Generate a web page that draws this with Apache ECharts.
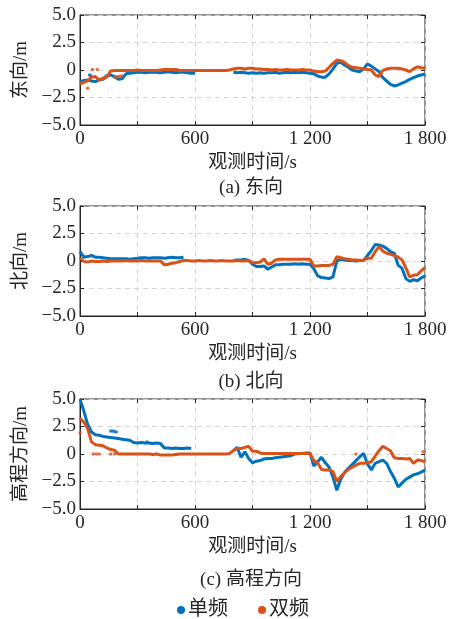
<!DOCTYPE html>
<html>
<head>
<meta charset="utf-8">
<script src="https://cdn.jsdelivr.net/npm/echarts@6/dist/echarts.min.js"></script>
<style>
  html, body { margin: 0; padding: 0; background: #fff; }
  #chart { width: 451px; height: 619px; }
</style>
</head>
<body>
<div id="chart"></div>
<script>
var step = 20;

// tick labels
var xTickLabels = { 0: '0', 600: '600', 1200: '1 200', 1800: '1 800' };
var yTickLabels = { '5': '5.0', '2.5': '2.5', '0': '0', '-2.5': '−2.5', '-5': '−5.0' };

var panelNames = ['东向/m', '北向/m', '高程方向/m'];
var captions = ['(a) 东向', '(b) 北向', '(c) 高程方向'];
var seriesNames = ['单频', '双频'];

// 东向
var eastSingle = [
  -1.1, -0.95, -0.9, -1.0, -1.05, -0.9, -0.85, -0.5, -0.45, -0.6,
  -0.85, -0.8, -0.35, -0.3, -0.25, -0.2, -0.2, -0.25, -0.2, -0.2,
  -0.2, -0.25, -0.2, -0.15, -0.2, -0.25, -0.2, -0.2, -0.25, -0.3,
  -0.3, null, null, null, null, null, null, null, null, null,
  -0.2, -0.25, -0.2, -0.25, -0.3, -0.25, -0.3, -0.25, -0.3, -0.25,
  -0.25, -0.2, -0.3, -0.25, -0.2, -0.25, -0.2, -0.25, -0.2, -0.25,
  -0.3, -0.35, -0.55, -0.65, -0.65, -0.35, 0.1, 0.6, 0.7, 0.45,
  0.25, 0.0, -0.1, -0.15, 0.1, 0.55, 0.35, 0.1, -0.15, -0.7,
  -1.0, -1.3, -1.45, -1.35, -1.2, -1.05, -0.85, -0.7, -0.55, -0.45,
  -0.35
];
var eastDual = [
  -1.3, -1.1, -1.0, -0.65, -0.6, -0.9, -0.75, -0.65, -0.1, -0.05,
  -0.05, -0.05, -0.05, -0.05, -0.05, 0.0, -0.05, -0.05, -0.05, -0.05,
  -0.05, 0.0, 0.05, 0.05, 0.05, 0.05, -0.05, -0.05, -0.05, -0.05,
  -0.05, -0.05, -0.05, -0.05, -0.05, -0.05, -0.05, -0.05, -0.05, 0.0,
  0.1, 0.15, 0.15, 0.1, 0.15, 0.15, 0.1, 0.1, 0.05, 0.05,
  0.0, 0.05, 0.0, 0.0, 0.05, 0.0, 0.0, 0.0, 0.05, 0.0,
  0.0, -0.1, -0.15, -0.15, -0.1, 0.25, 0.6, 0.9, 0.85, 0.7,
  0.4, 0.25, 0.2, 0.15, 0.1, 0.05, 0.0, -0.45, -0.6, -0.05,
  0.1, 0.15, 0.15, 0.15, 0.1, 0.0, -0.15, 0.1, 0.3, 0.2,
  0.15
];
var eastSingleDots = [[50, -0.45], [55, -0.5]];
var eastDualDots = [[40, -1.65], [65, 0.05], [90, 0.05], [180, -0.65], [190, -0.62], [200, -0.6], [210, -0.58], [220, -0.55]];

// 北向
var northSingle = [
  0.85, 0.35, 0.4, 0.5, 0.35, 0.35, 0.3, 0.25, 0.2, 0.2,
  0.2, 0.2, 0.2, 0.15, 0.2, 0.25, 0.3, 0.3, 0.25, 0.3,
  0.3, 0.3, 0.25, 0.3, 0.35, 0.3, 0.3, 0.35, null, null,
  null, null, null, null, null, null, null, null, null, null,
  0.05, 0.1, 0.1, 0.15, 0.05, -0.3, -0.5, -0.5, -0.45, -0.75,
  -0.55, -0.35, -0.35, -0.3, -0.3, -0.3, -0.25, -0.3, -0.25, -0.3,
  -0.3, -0.7, -1.35, -1.5, -1.55, -1.6, -1.45, 0.0, 0.15, 0.1,
  0.05, 0.05, 0.0, 0.05, 0.05, 0.5, 0.95, 1.5, 1.45, 1.35,
  1.15, 0.85, 0.7, -0.4, -0.65, -1.6, -1.85, -1.7, -1.8, -1.55,
  -1.35
];
var northDual = [
  0.3, -0.05, -0.1, 0.0, -0.05, -0.05, 0.0, -0.05, 0.0, 0.0,
  0.0, 0.0, 0.05, 0.0, 0.0, 0.0, 0.05, 0.0, 0.0, 0.0,
  0.0, 0.0, -0.35, -0.3, -0.2, -0.15, -0.05, 0.05, 0.05, 0.0,
  0.0, 0.05, 0.0, 0.0, 0.05, 0.0, 0.0, 0.05, 0.0, 0.0,
  0.0, 0.05, 0.0, 0.0, 0.05, -0.15, -0.15, -0.1, 0.2, -0.3,
  -0.2, 0.1, 0.15, 0.15, 0.15, 0.15, 0.15, 0.15, 0.15, 0.15,
  0.15, -0.45, -0.45, -0.4, -0.4, -0.4, -0.3, 0.4, 0.3, 0.2,
  0.15, 0.1, 0.1, 0.05, 0.1, 0.25, 0.25, 0.85, 1.3, 0.9,
  0.7, 0.6, 0.5, 0.35, 0.1, -0.6, -1.45, -1.3, -1.25, -0.9,
  -0.6
];

// 高程方向
var heightSingle = [
  5.0, 3.9, 2.7, 2.0, 1.75, 1.7, 1.6, 1.55, 1.5, 1.45,
  1.4, 1.35, 1.3, 1.25, 1.05, 1.0, 1.05, 1.0, 1.0, 0.95,
  1.0, 0.95, 0.55, 0.55, 0.5, 0.55, 0.5, 0.5, 0.55, 0.5,
  null, null, null, null, null, null, null, null, null, null,
  0.3, 0.6, -0.3, 0.2, -0.4, -0.8, -0.65, -0.6, -0.45, -0.4,
  -0.4, -0.35, -0.3, -0.25, -0.2, -0.15, 0.0, 0.05, 0.05, 0.1,
  0.1, -1.1, -0.7, -0.3, -0.8, -1.2, -2.1, -3.3, -2.3, -1.7,
  -1.3, -0.95, -0.6, -0.25, 0.05, -0.9, -1.45, -0.85, -0.7, -0.55,
  -0.85, -1.6, -2.2, -3.0, -2.65, -2.3, -2.1, -1.9, -1.8, -1.65,
  -1.45
];
var heightDual = [
  3.25, 2.9, 2.3, 1.1, 0.85, 0.8, 0.75, 0.55, 0.4, 0.35,
  0.0, 0.0, 0.0, 0.0, 0.0, 0.0, 0.0, 0.0, 0.0, -0.05,
  0.0, -0.1, -0.1, -0.1, -0.1, -0.05, 0.0, 0.0, 0.0, 0.0,
  0.0, 0.0, 0.0, 0.0, 0.0, 0.0, 0.0, 0.0, 0.0, 0.05,
  0.3, 0.5, 0.5, 0.6, 0.7, 0.25, 0.25, 0.1, 0.05, 0.05,
  0.05, 0.05, 0.05, 0.05, 0.05, 0.05, 0.05, 0.05, 0.05, 0.05,
  0.05, -0.6, -0.8, -1.4, -1.45, -1.45, -1.6, -2.5, -2.05, -1.7,
  -1.4, -1.2, -1.0, -0.85, -0.85, -0.8, -0.7, -0.2, 0.3, 0.7,
  0.5, 0.3, -0.35, -0.4, -0.4, -0.45, -0.4, -0.85, -0.55, -0.6,
  -0.7
];
var heightSingleDots = [[160, 2.1], [170, 2.08], [180, 2.05], [190, 2.0], [350, 1.1]];
var heightDualDots = [[0, 1.9], [70, 0.0], [85, 0.0], [100, 0.0], [160, 0.0], [180, 0.0], [1440, 0.0], [1790, 0.2]];

var panels = [
  { single: eastSingle, dual: eastDual, singleDots: eastSingleDots, dualDots: eastDualDots },
  { single: northSingle, dual: northDual, singleDots: [], dualDots: [] },
  { single: heightSingle, dual: heightDual, singleDots: heightSingleDots, dualDots: heightDualDots }
];

var colors = ['#0072BD', '#D95319'];
var font = '"Liberation Serif", "Noto Sans CJK SC", serif';
var axisColor = '#262626';
var gridTops = [15, 206, 399];

function toPairs(values) {
  return values.map(function (v, i) { return [i * step, v]; });
}

var grids = [], xAxes = [], yAxes = [], series = [], graphics = [];

gridTops.forEach(function (top, i) {
  grids.push({
    left: 80, right: 26, top: top, height: 110,
    show: true, borderColor: axisColor, borderWidth: 1
  });
  xAxes.push({
    type: 'value', gridIndex: i, min: 0, max: 1800, interval: 300,
    name: '观测时间/s', nameLocation: 'middle', nameGap: 29,
    nameTextStyle: { fontFamily: font, fontSize: 19, color: axisColor },
    axisLine: { show: true, onZero: false, lineStyle: { color: axisColor } },
    axisTick: { inside: true, length: 4, lineStyle: { color: axisColor } },
    axisLabel: {
      fontFamily: font, fontSize: 19, color: axisColor, margin: 5,
      formatter: function (v) { return xTickLabels[v] || ''; }
    },
    splitLine: { show: true, lineStyle: { color: '#d4d4d4', type: [5, 4] } }
  });
  xAxes.push({
    type: 'value', gridIndex: i, position: 'top', min: 0, max: 1800, interval: 300,
    axisLine: { show: false, onZero: false },
    axisTick: { inside: true, length: 4, lineStyle: { color: axisColor } },
    axisLabel: { show: false }, splitLine: { show: false }
  });
  yAxes.push({
    type: 'value', gridIndex: i, min: -5, max: 5, interval: 2.5,
    name: panelNames[i], nameLocation: 'middle', nameGap: 47,
    nameTextStyle: { fontFamily: font, fontSize: 19, color: axisColor },
    axisLine: { show: true, onZero: false, lineStyle: { color: axisColor } },
    axisTick: { inside: true, length: 4, lineStyle: { color: axisColor } },
    axisLabel: {
      fontFamily: font, fontSize: 19, color: axisColor, margin: 4,
      formatter: function (v) { return yTickLabels[String(v)]; }
    },
    splitLine: { show: true, lineStyle: { color: '#d4d4d4', type: [5, 4] } }
  });
  yAxes.push({
    type: 'value', gridIndex: i, position: 'right', min: -5, max: 5, interval: 2.5,
    axisLine: { show: false, onZero: false },
    axisTick: { inside: true, length: 4, lineStyle: { color: axisColor } },
    axisLabel: { show: false }, splitLine: { show: false }
  });

  var p = panels[i];
  [[p.single, p.singleDots], [p.dual, p.dualDots]].forEach(function (pair, k) {
    series.push({
      name: seriesNames[k], type: 'line', xAxisIndex: i * 2, yAxisIndex: i * 2,
      data: toPairs(pair[0]), showSymbol: false, connectNulls: false,
      lineStyle: { color: colors[k], width: 3 }, itemStyle: { color: colors[k] },
      z: 2 + k
    });
    if (pair[1].length) {
      series.push({
        name: seriesNames[k], type: 'scatter', xAxisIndex: i * 2, yAxisIndex: i * 2,
        data: pair[1], symbolSize: 3.5, itemStyle: { color: colors[k] }, z: 2 + k
      });
    }
  });
});

var captionY = [188, 382, 580];
captions.forEach(function (c, i) {
  graphics.push({
    type: 'text', x: 251, y: captionY[i],
    style: { text: c, font: '19px ' + font, fill: axisColor, textAlign: 'center', textVerticalAlign: 'middle' }
  });
});

var chart = echarts.init(document.getElementById('chart'), null, { renderer: 'canvas' });
chart.setOption({
  animation: false,
  color: colors,
  grid: grids,
  xAxis: xAxes,
  yAxis: yAxes,
  series: series,
  graphic: graphics,
  legend: {
    data: [
      { name: seriesNames[0], icon: 'circle' },
      { name: seriesNames[1], icon: 'circle' }
    ],
    left: 172, top: 595,
    itemWidth: 8, itemHeight: 8, itemGap: 30,
    textStyle: { fontFamily: font, fontSize: 20, color: axisColor, padding: [0, 0, 0, -2] }
  }
});
</script>
</body>
</html>
